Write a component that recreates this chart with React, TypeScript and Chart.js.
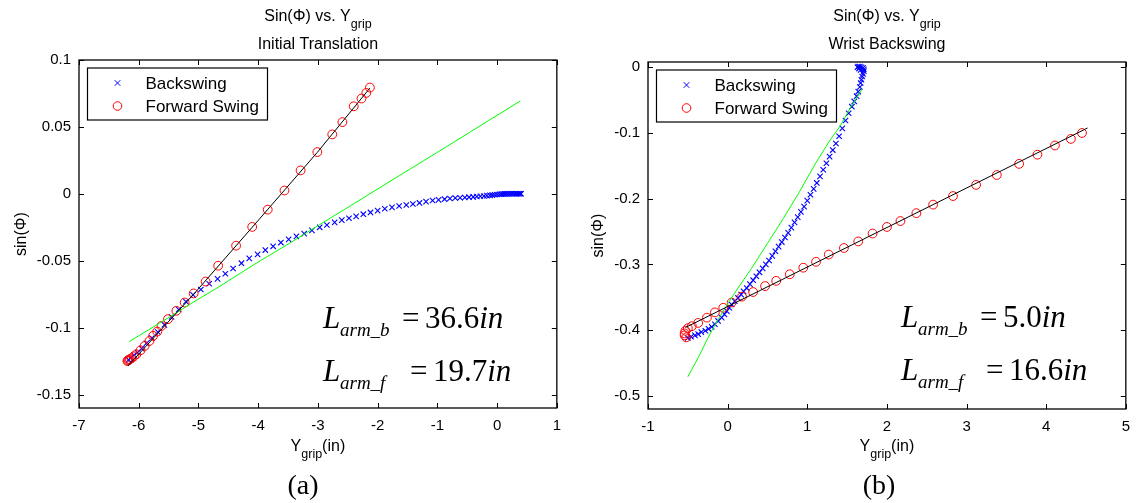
import React, { useEffect, useRef } from "react";
import { Chart, registerables } from "chart.js";

Chart.register(...registerables);

const SANS = '"Liberation Sans", Arial, Helvetica, sans-serif';
const SERIF = '"Liberation Serif", "Times New Roman", Times, serif';

// ---------- Panel (a): Initial Translation ----------
const xTicksA = [-7, -6, -5, -4, -3, -2, -1, 0, 1];
const xTickLabelsA = ["-7", "-6", "-5", "-4", "-3", "-2", "-1", "0", "1"];
const yTicksA = [-0.15, -0.1, -0.05, 0, 0.05, 0.1];
const yTickLabelsA = ["-0.15", "-0.1", "-0.05", "0", "0.05", "0.1"];

const backXA = [
  -6.17, -6.13, -6.08, -6.02, -5.95, -5.87, -5.78, -5.68, -5.57, -5.45,
  -5.33, -5.21, -5.09, -4.96, -4.82, -4.68, -4.55, -4.42, -4.28, -4.15,
  -4.01, -3.88, -3.75, -3.62, -3.49, -3.36, -3.23, -3.10, -2.97, -2.85,
  -2.72, -2.60, -2.48, -2.36, -2.24, -2.12, -2.00, -1.88, -1.76, -1.64,
  -1.52, -1.41, -1.30, -1.19, -1.08, -0.98, -0.88, -0.79, -0.70, -0.62,
  -0.54, -0.47, -0.40, -0.34, -0.28, -0.22, -0.17, -0.12, -0.08, -0.04,
  0.00, 0.04, 0.07, 0.10, 0.13, 0.16, 0.19, 0.22, 0.25, 0.28,
  0.31, 0.33, 0.35, 0.37, 0.39, 0.40,
];
const backYA = [
  -0.1240, -0.1223, -0.1205, -0.1185, -0.1156, -0.1116, -0.1078, -0.1032, -0.0979, -0.0919,
  -0.0864, -0.0805, -0.0755, -0.0715, -0.0672, -0.0635, -0.0597, -0.0558, -0.0518, -0.0482,
  -0.0452, -0.0420, -0.0392, -0.0364, -0.0340, -0.0318, -0.0297, -0.0273, -0.0250, -0.0233,
  -0.0213, -0.0196, -0.0182, -0.0168, -0.0152, -0.0139, -0.0125, -0.0111, -0.0101, -0.0091,
  -0.0083, -0.0076, -0.0068, -0.0058, -0.0050, -0.0045, -0.0040, -0.0035, -0.0031, -0.0029,
  -0.0027, -0.0025, -0.0023, -0.0020, -0.0018, -0.0016, -0.0013, -0.0011, -0.0009, -0.0007,
  -0.0005, -0.0003, -0.0002, -0.0001, 0.0, 0.0, 0.0, 0.0001, 0.0001, 0.0001,
  0.0001, 0.0001, 0.0001, 0.0001, 0.0001, 0.0001,
];

const fwdXA = [
  -6.19, -6.18, -6.17, -6.15, -6.12, -6.08, -6.04, -5.97, -5.90, -5.82,
  -5.76, -5.69, -5.62, -5.51, -5.37, -5.23, -5.08, -4.88, -4.67, -4.37,
  -4.10, -3.84, -3.56, -3.29, -3.01, -2.76, -2.59, -2.40, -2.27, -2.19,
  -2.13,
];
const fwdYA = [
  -0.1249, -0.1245, -0.1240, -0.1236, -0.1229, -0.1214, -0.1199, -0.1169, -0.1136, -0.1099,
  -0.1061, -0.1029, -0.0987, -0.0936, -0.0874, -0.0812, -0.0744, -0.0655, -0.0537, -0.0387,
  -0.0247, -0.0118, 0.0025, 0.0175, 0.0312, 0.0444, 0.0536, 0.0654, 0.0712, 0.0754,
  0.0794,
];

// backswing model (green) and forward-swing model (black)
const greenXA = [-6.16, -5.60, -5.04, -4.64, -4.07, -3.50, -2.97, -2.24, -1.63, -1.02, -0.14, 0.39];
const greenYA = [-0.1104, -0.0952, -0.0797, -0.0690, -0.0528, -0.0376, -0.0230, -0.0030, 0.0138, 0.0305, 0.0548, 0.0694];
const blackXA = [-6.18, -5.07, -4.10, -3.01, -2.13];
const blackYA = [-0.1285, -0.0745, -0.0250, 0.0310, 0.0790];

// ---------- Panel (b): Wrist Backswing ----------
const xTicksB = [-1, 0, 1, 2, 3, 4, 5];
const xTickLabelsB = ["-1", "0", "1", "2", "3", "4", "5"];
const yTicksB = [-0.5, -0.4, -0.3, -0.2, -0.1, 0];
const yTickLabelsB = ["-0.5", "-0.4", "-0.3", "-0.2", "-0.1", "0"];

const backXB = [
  -0.50, -0.46, -0.41, -0.37, -0.33, -0.28, -0.24, -0.20, -0.16, -0.12,
  -0.075, -0.04, -0.01, 0.02, 0.05, 0.09, 0.13, 0.17, 0.20, 0.24,
  0.28, 0.32, 0.36, 0.40, 0.44, 0.48, 0.52, 0.56, 0.60, 0.64,
  0.68, 0.72, 0.76, 0.80, 0.84, 0.88, 0.92, 0.96, 1.00, 1.04,
  1.08, 1.12, 1.16, 1.20, 1.24, 1.28, 1.32, 1.36, 1.40, 1.44,
  1.48, 1.52, 1.56, 1.59, 1.62, 1.64, 1.66, 1.67, 1.68, 1.69,
  1.70, 1.71, 1.71, 1.70, 1.68, 1.66, 1.64, 1.63, 1.65, 1.67,
];
const backYB = [
  -0.412, -0.410, -0.408, -0.406, -0.403, -0.401, -0.398, -0.395, -0.391, -0.386,
  -0.381, -0.376, -0.371, -0.366, -0.361, -0.356, -0.351, -0.346, -0.341, -0.336,
  -0.330, -0.324, -0.318, -0.312, -0.306, -0.300, -0.294, -0.287, -0.280, -0.273,
  -0.266, -0.259, -0.252, -0.244, -0.236, -0.228, -0.220, -0.212, -0.203, -0.194,
  -0.185, -0.176, -0.166, -0.156, -0.146, -0.136, -0.126, -0.116, -0.105, -0.093,
  -0.081, -0.070, -0.060, -0.052, -0.044, -0.037, -0.030, -0.024, -0.019, -0.014,
  -0.010, -0.006, -0.003, -0.001, 0.000, 0.001, 0.001, 0.000, -0.002, -0.004,
];

const fwdXB = [
  -0.52, -0.54, -0.54, -0.53, -0.50, -0.45, -0.37, -0.26, -0.16, -0.055,
  0.05, 0.18, 0.32, 0.47, 0.61, 0.78, 0.95, 1.11, 1.27, 1.46,
  1.64, 1.82, 2.00, 2.17, 2.37, 2.58, 2.83, 3.12, 3.38, 3.66,
  3.89, 4.11, 4.31, 4.45,
];
const fwdYB = [
  -0.411, -0.408, -0.405, -0.401, -0.397, -0.394, -0.389, -0.381, -0.373, -0.366,
  -0.358, -0.349, -0.342, -0.333, -0.325, -0.315, -0.305, -0.296, -0.285, -0.275,
  -0.265, -0.253, -0.243, -0.234, -0.222, -0.209, -0.196, -0.179, -0.164, -0.147,
  -0.133, -0.119, -0.109, -0.100,
];

const greenXB = [-0.50, -0.37, -0.24, -0.12, 0.01, 0.13, 0.30, 0.50, 0.70, 0.90, 1.10, 1.28, 1.41, 1.55, 1.69];
const greenYB = [-0.471, -0.442, -0.410, -0.384, -0.358, -0.336, -0.306, -0.268, -0.230, -0.190, -0.147, -0.112, -0.090, -0.060, -0.033];
const blackXB = [-0.53, 4.52];
const blackYB = [-0.396, -0.0924];

// ---------- shared drawing helpers ----------
type Run = { t: string; font: string; dy?: number };

function runsWidth(ctx: CanvasRenderingContext2D, runs: Run[]) {
  let w = 0;
  for (const r of runs) {
    ctx.font = r.font;
    w += ctx.measureText(r.t).width;
  }
  return w;
}

function drawRuns(ctx: CanvasRenderingContext2D, runs: Run[], x: number, y: number) {
  let cx = x;
  for (const r of runs) {
    ctx.font = r.font;
    ctx.fillText(r.t, cx, y + (r.dy || 0));
    cx += ctx.measureText(r.t).width;
  }
}

function drawCentered(ctx: CanvasRenderingContext2D, runs: Run[], cx: number, y: number) {
  drawRuns(ctx, runs, cx - runsWidth(ctx, runs) / 2, y);
}

const zip = (xs: number[], ys: number[]) => xs.map((x, i) => ({ x, y: ys[i] }));

type Formula = { sub: string; value: string; x: number; y: number; eq: number };

type Panel = {
  width: number;
  left: number;
  area: { left: number; right: number; top: number; bottom: number };
  xRange: [number, number];
  yRange: [number, number];
  xTicks: number[];
  xTickLabels: string[];
  yTicks: number[];
  yTickLabels: string[];
  back: { x: number; y: number }[];
  fwd: { x: number; y: number }[];
  green: { x: number; y: number }[];
  black: { x: number; y: number }[];
  subtitle: string;
  caption: string;
  captionX: number;
  ylabelX: number;
  formulas: Formula[];
};

const panels: Panel[] = [
  {
    width: 570,
    left: 0,
    area: { left: 79, right: 557.5, top: 60, bottom: 408 },
    xRange: [-7, 1],
    yRange: [-0.16, 0.1],
    xTicks: xTicksA,
    xTickLabels: xTickLabelsA,
    yTicks: yTicksA,
    yTickLabels: yTickLabelsA,
    back: zip(backXA, backYA),
    fwd: zip(fwdXA, fwdYA),
    green: zip(greenXA, greenYA),
    black: zip(blackXA, blackYA),
    subtitle: "Initial Translation",
    caption: "(a)",
    captionX: 303,
    ylabelX: 22,
    formulas: [
      { sub: "arm_b", value: "36.6", x: 323, y: 328, eq: 79 },
      { sub: "arm_f", value: "19.7", x: 323, y: 381, eq: 87 },
    ],
  },
  {
    width: 569,
    left: 570,
    area: { left: 78, right: 556, top: 62, bottom: 409 },
    xRange: [-1, 5],
    yRange: [-0.52, 0.008],
    xTicks: xTicksB,
    xTickLabels: xTickLabelsB,
    yTicks: yTicksB,
    yTickLabels: yTickLabelsB,
    back: zip(backXB, backYB),
    fwd: zip(fwdXB, fwdYB),
    green: zip(greenXB, greenYB),
    black: zip(blackXB, blackYB),
    subtitle: "Wrist Backswing",
    caption: "(b)",
    captionX: 309,
    ylabelX: 29,
    formulas: [
      { sub: "arm_b", value: "5.0", x: 331, y: 327, eq: 79 },
      { sub: "arm_f", value: "16.6", x: 331, y: 380, eq: 85 },
    ],
  },
];

const HEIGHT = 503;
const X_AXIS_H = 40;

function labelFor(ticks: number[], labels: string[]) {
  return (v: number | string) => {
    const i = ticks.findIndex((t) => Math.abs(t - Number(v)) < 1e-9);
    return i >= 0 ? labels[i] : "";
  };
}

function decorPlugin(p: Panel) {
  return {
    id: "panelDecor",
    afterDatasetsDraw(chart: any) {
      const ctx: CanvasRenderingContext2D = chart.ctx;
      const a = chart.chartArea;
      const xs = chart.scales.x;
      const ys = chart.scales.y;
      ctx.save();
      ctx.strokeStyle = "#000";
      ctx.lineWidth = 1;
      ctx.beginPath();
      for (const v of p.xTicks) {
        const px = Math.round(xs.getPixelForValue(v)) + 0.5;
        ctx.moveTo(px, a.bottom);
        ctx.lineTo(px, a.bottom - 5);
        ctx.moveTo(px, a.top);
        ctx.lineTo(px, a.top + 5);
      }
      for (const v of p.yTicks) {
        const py = Math.round(ys.getPixelForValue(v)) + 0.5;
        ctx.moveTo(a.left, py);
        ctx.lineTo(a.left + 5, py);
        ctx.moveTo(a.right, py);
        ctx.lineTo(a.right - 5, py);
      }
      ctx.stroke();

      // axes box
      ctx.lineWidth = 1.3;
      ctx.strokeRect(a.left, a.top, a.right - a.left, a.bottom - a.top);

      // legend
      const lx = a.left + 8.5;
      const ly = a.top + 8;
      const lw = 180;
      const lh = 52;
      ctx.fillStyle = "#fff";
      ctx.fillRect(lx, ly, lw, lh);
      ctx.lineWidth = 1.2;
      ctx.strokeStyle = "#000";
      ctx.strokeRect(lx, ly, lw, lh);
      const mx = lx + 30;
      const r1 = ly + 15;
      const r2 = ly + 38;
      ctx.strokeStyle = "#0000ff";
      ctx.lineWidth = 1;
      ctx.beginPath();
      ctx.moveTo(mx - 2.8, r1 - 2.8);
      ctx.lineTo(mx + 2.8, r1 + 2.8);
      ctx.moveTo(mx + 2.8, r1 - 2.8);
      ctx.lineTo(mx - 2.8, r1 + 2.8);
      ctx.stroke();
      ctx.strokeStyle = "#ff0000";
      ctx.beginPath();
      ctx.arc(mx, r2, 4.3, 0, Math.PI * 2);
      ctx.stroke();
      ctx.fillStyle = "#000";
      ctx.textBaseline = "middle";
      ctx.textAlign = "left";
      ctx.font = `17px ${SANS}`;
      ctx.fillText("Backswing", lx + 58, r1 + 1);
      ctx.fillText("Forward Swing", lx + 58, r2 + 1);
      ctx.restore();
    },
    afterDraw(chart: any) {
      const ctx: CanvasRenderingContext2D = chart.ctx;
      const a = chart.chartArea;
      const cx = (a.left + a.right) / 2;
      ctx.save();
      ctx.fillStyle = "#000";
      ctx.textBaseline = "alphabetic";
      ctx.textAlign = "left";

      // title
      const tFont = `16px ${SANS}`;
      const sFont = `12.5px ${SANS}`;
      drawCentered(
        ctx,
        [
          { t: "Sin(\u03A6) vs. Y", font: tFont },
          { t: "grip", font: sFont, dy: 7 },
        ],
        cx,
        21
      );
      drawCentered(ctx, [{ t: p.subtitle, font: tFont }], cx, 49);

      // x label
      drawCentered(
        ctx,
        [
          { t: "Y", font: tFont },
          { t: "grip", font: sFont, dy: 7 },
          { t: "(in)", font: tFont },
        ],
        cx,
        451
      );

      // y label
      ctx.save();
      ctx.translate(p.ylabelX, (a.top + a.bottom) / 2);
      ctx.rotate(-Math.PI / 2);
      ctx.textBaseline = "middle";
      drawCentered(ctx, [{ t: "sin(\u03A6)", font: tFont }], 0, 0);
      ctx.restore();

      // lever-arm annotations
      ctx.textBaseline = "alphabetic";
      for (const f of p.formulas) {
        ctx.font = `italic 31px ${SERIF}`;
        ctx.fillText("L", f.x, f.y);
        ctx.font = `italic 19px ${SERIF}`;
        ctx.fillText(f.sub, f.x + 17, f.y + 8);
        ctx.font = `31px ${SERIF}`;
        ctx.fillText("=", f.x + f.eq, f.y);
        const vx = f.x + f.eq + 23;
        ctx.fillText(f.value, vx, f.y);
        const vw = ctx.measureText(f.value).width;
        ctx.font = `italic 31px ${SERIF}`;
        ctx.fillText("in", vx + vw, f.y);
      }

      // caption
      ctx.font = `28px ${SERIF}`;
      ctx.textAlign = "center";
      ctx.fillText(p.caption, p.captionX, 494);
      ctx.restore();
    },
  };
}

function PanelChart({ p }: { p: Panel }) {
  const ref = useRef<HTMLCanvasElement | null>(null);
  useEffect(() => {
    if (!ref.current) return;
    const tickFont = { family: SANS, size: 15 };
    const chart = new Chart(ref.current, {
      type: "scatter",
      data: {
        datasets: [
          {
            label: "fit forward",
            data: p.black,
            showLine: true,
            borderColor: "#000000",
            borderWidth: 1,
            pointRadius: 0,
            order: 0,
          },
          {
            label: "fit back",
            data: p.green,
            showLine: true,
            borderColor: "#00ff00",
            borderWidth: 1,
            pointRadius: 0,
            order: 1,
          },
          {
            label: "Forward Swing",
            data: p.fwd,
            showLine: false,
            pointStyle: "circle",
            pointRadius: 4.4,
            pointBorderWidth: 1,
            pointBorderColor: "#ff0000",
            pointBackgroundColor: "rgba(0,0,0,0)",
            borderColor: "#ff0000",
            backgroundColor: "rgba(0,0,0,0)",
            order: 2,
          },
          {
            label: "Backswing",
            data: p.back,
            showLine: false,
            pointStyle: "crossRot",
            pointRadius: 3.8,
            pointBorderWidth: 1.1,
            pointBorderColor: "#0000ff",
            borderColor: "#0000ff",
            order: 3,
          },
        ],
      },
      options: {
        animation: false,
        responsive: false,
        devicePixelRatio: 1,
        events: [],
        layout: {
          padding: {
            left: 0,
            top: p.area.top,
            right: p.width - p.area.right,
            bottom: HEIGHT - p.area.bottom - X_AXIS_H,
          },
        },
        plugins: {
          legend: { display: false },
          title: { display: false },
          tooltip: { enabled: false },
        },
        scales: {
          x: {
            type: "linear",
            min: p.xRange[0],
            max: p.xRange[1],
            afterBuildTicks: (s: any) => {
              s.ticks = p.xTicks.map((v) => ({ value: v }));
            },
            afterFit: (s: any) => {
              s.height = X_AXIS_H;
            },
            grid: { display: false, drawTicks: false },
            border: { display: false },
            ticks: {
              color: "#000",
              font: tickFont,
              padding: 9,
              maxRotation: 0,
              autoSkip: false,
              callback: labelFor(p.xTicks, p.xTickLabels),
            },
          },
          y: {
            type: "linear",
            min: p.yRange[0],
            max: p.yRange[1],
            afterBuildTicks: (s: any) => {
              s.ticks = p.yTicks.map((v) => ({ value: v }));
            },
            afterFit: (s: any) => {
              s.width = p.area.left;
            },
            grid: { display: false, drawTicks: false },
            border: { display: false },
            ticks: {
              color: "#000",
              font: tickFont,
              padding: 8,
              autoSkip: false,
              callback: labelFor(p.yTicks, p.yTickLabels),
            },
          },
        },
      },
      plugins: [decorPlugin(p)],
    } as any);
    return () => chart.destroy();
  }, [p]);
  return (
    <canvas
      ref={ref}
      width={p.width}
      height={HEIGHT}
      style={{ position: "absolute", left: p.left, top: 0, width: p.width, height: HEIGHT }}
    />
  );
}

export default function App() {
  return (
    <div
      style={{
        position: "fixed",
        left: 0,
        top: 0,
        width: 1139,
        height: HEIGHT,
        background: "#fff",
        overflow: "hidden",
      }}
    >
      {panels.map((p) => (
        <PanelChart key={p.caption} p={p} />
      ))}
    </div>
  );
}
